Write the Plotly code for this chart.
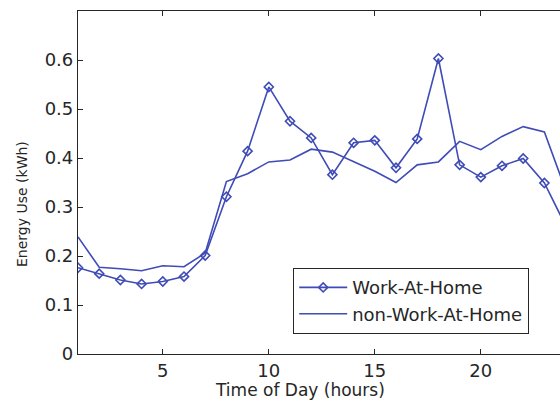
import plotly.graph_objects as go

# Hourly average household energy use (kWh)
hours = list(range(1, 25))
work_at_home = [0.176, 0.164, 0.151, 0.143, 0.148, 0.158, 0.201, 0.321,
                0.414, 0.545, 0.475, 0.441, 0.366, 0.431, 0.436, 0.380,
                0.439, 0.603, 0.386, 0.361, 0.384, 0.399, 0.349, 0.262]
non_work_at_home = [0.239, 0.177, 0.174, 0.170, 0.180, 0.178, 0.206, 0.352,
                    0.368, 0.392, 0.396, 0.418, 0.412, 0.393, 0.373, 0.350,
                    0.386, 0.392, 0.434, 0.417, 0.444, 0.464, 0.453, 0.335]
y_ticks = [0, 0.1, 0.2, 0.3, 0.4, 0.5, 0.6]
y_tick_text = ["0", "0.1", "0.2", "0.3", "0.4", "0.5", "0.6"]
x_ticks = [5, 10, 15, 20]

LINE = "#3f4bb6"
INK = "#262626"
FONT = "DejaVu Sans"

W, H = 560, 403
L, R, T, B = 78, 0, 11, 49
plot_w = W - L - R
plot_h = H - T - B
px_per_hour = 21.2
x_max = 1 + plot_w / px_per_hour

fig = go.Figure()
fig.add_trace(go.Scatter(
    x=hours, y=work_at_home, name="Work-At-Home", mode="lines+markers",
    line=dict(color=LINE, width=1.6),
    marker=dict(symbol="diamond-open", size=7, color=LINE, line=dict(width=1.6)),
))
fig.add_trace(go.Scatter(
    x=hours, y=non_work_at_home, name="non-Work-At-Home", mode="lines",
    line=dict(color=LINE, width=1.6),
))

axis_common = dict(
    showline=True, linecolor=INK, linewidth=1.2,
    ticks="inside", ticklen=5, tickcolor=INK, tickwidth=1,
    showgrid=False, zeroline=False,
    tickfont=dict(family=FONT, size=18, color=INK),
)
fig.update_xaxes(range=[1, x_max], tickvals=x_ticks, mirror="ticks", **axis_common)
fig.update_yaxes(range=[0, 0.7], tickvals=y_ticks, ticktext=y_tick_text,
                 mirror=False, **axis_common)

fig.update_layout(
    width=W, height=H,
    margin=dict(l=L, r=R, t=T, b=B, pad=0),
    paper_bgcolor="white", plot_bgcolor="white",
    showlegend=True,
    legend=dict(
        x=(293 - L) / plot_w, y=(H - B - 268) / plot_h,
        xanchor="left", yanchor="top",
        bgcolor="white", bordercolor=INK, borderwidth=1.2,
        font=dict(family=FONT, size=18, color=INK),
        itemwidth=48, tracegroupgap=0,
    ),
    annotations=[
        dict(text="Time of Day (hours)", xref="paper", yref="paper",
             x=(300 - L) / plot_w, y=(H - B - 390) / plot_h,
             xanchor="center", yanchor="middle", showarrow=False,
             font=dict(family=FONT, size=17, color=INK)),
        dict(text="Energy Use (kWh)", xref="paper", yref="paper",
             x=(22 - L) / plot_w, y=(H - B - 204) / plot_h,
             xanchor="center", yanchor="middle", textangle=-90, showarrow=False,
             font=dict(family=FONT, size=14, color=INK)),
    ],
)

fig.write_html("out.html")
